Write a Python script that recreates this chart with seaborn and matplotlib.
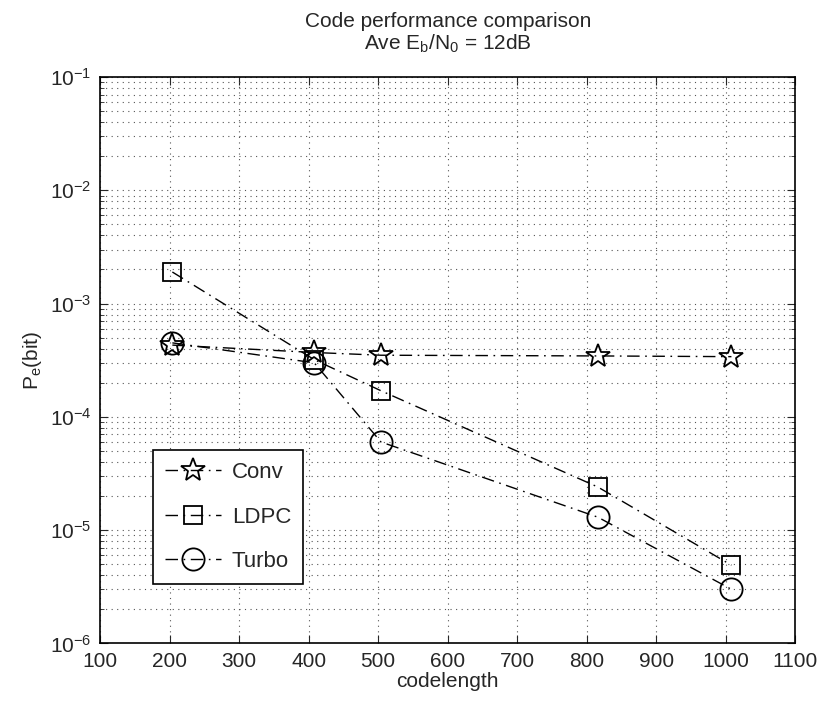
import matplotlib
matplotlib.use("Agg")
import matplotlib.pyplot as plt
import seaborn as sns
import pandas as pd
from matplotlib.ticker import LogLocator, NullFormatter, MultipleLocator

# data
codelength = [204, 408, 504, 816, 1008]
conv = [4.3e-4, 3.7e-4, 3.5e-4, 3.45e-4, 3.4e-4]
ldpc = [1.9e-3, 3.2e-4, 1.7e-4, 2.4e-5, 4.9e-6]
turbo = [4.5e-4, 3.0e-4, 6.0e-5, 1.3e-5, 3.0e-6]
series_names = ["Conv", "LDPC", "Turbo"]
markers = ["*", "s", "o"]
marker_sizes = [18, 13, 16]

sns.set_style("ticks")
plt.rcParams["font.family"] = ["Liberation Sans", "DejaVu Sans"]
plt.rcParams["mathtext.fontset"] = "custom"
plt.rcParams["mathtext.rm"] = "Liberation Sans"
plt.rcParams["mathtext.it"] = "Liberation Sans"

fig = plt.figure(figsize=(8.2, 7.07), dpi=100)
ax = fig.add_axes([0.122, 0.09, 0.848, 0.801])

dash_dot = (0, (9, 4, 1.2, 4))
for name, vals, m, ms in zip(series_names, [conv, ldpc, turbo], markers, marker_sizes):
    df = pd.DataFrame({"codelength": codelength, "pe": vals})
    sns.lineplot(data=df, x="codelength", y="pe", ax=ax, color="black",
                 linewidth=1.0, linestyle=dash_dot, marker=m, markersize=ms,
                 markerfacecolor="none", markeredgecolor="black",
                 markeredgewidth=1.3, label=name)

ax.set_yscale("log")
ax.set_xlim(100, 1100)
ax.set_ylim(1e-6, 1e-1)
ax.xaxis.set_major_locator(MultipleLocator(100))
ax.yaxis.set_major_locator(LogLocator(base=10, numticks=10))
ax.yaxis.set_minor_locator(LogLocator(base=10, subs=range(2, 10), numticks=100))
ax.yaxis.set_minor_formatter(NullFormatter())

ax.grid(True, which="major", axis="both", linestyle=(0, (1, 4)), color="#555555", linewidth=0.8)
ax.grid(True, which="minor", axis="y", linestyle=(0, (1, 4)), color="#555555", linewidth=0.8)

ax.tick_params(which="both", direction="in", top=True, right=True, labelsize=15)
ax.tick_params(which="major", length=6)
ax.tick_params(which="minor", length=3)
ax.tick_params(axis="x", pad=6)
ax.tick_params(axis="y", pad=6)
for sp in ax.spines.values():
    sp.set_linewidth(1.2)
    sp.set_color("black")

ax.set_xlabel("codelength", fontsize=15, labelpad=1)
ax.set_ylabel("P$_\\mathregular{e}$(bit)", fontsize=15, labelpad=4)
ax.set_title("Code performance comparison\nAve E$_\\mathregular{b}$/N$_\\mathregular{0}$ = 12dB",
             fontsize=15, linespacing=1.05, pad=20)

leg = ax.legend(loc="lower left", bbox_to_anchor=(0.06, 0.085), fontsize=16,
                frameon=True, fancybox=False, edgecolor="black", framealpha=1,
                handlelength=2.5, borderpad=0.55, labelspacing=1.05, handletextpad=0.5)
leg.get_frame().set_linewidth(1.2)

fig.savefig("out.png", dpi=100)
